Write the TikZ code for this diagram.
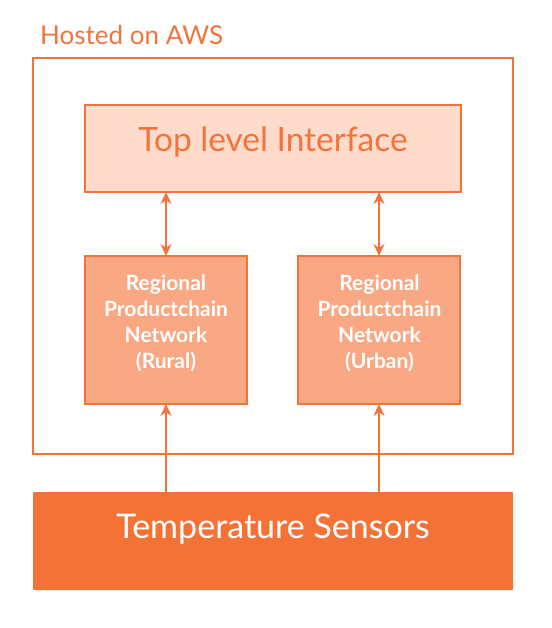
\documentclass[tikz,border=0pt]{standalone}
\usepackage{fontspec}
\setmainfont{Lato}
\usetikzlibrary{arrows.meta}
\definecolor{orline}{HTML}{F4733A}
\definecolor{ordark}{HTML}{F47235}
\definecolor{ormid}{HTML}{F9A883}
\definecolor{orlight}{HTML}{FFDBCC}
\begin{document}
\begin{tikzpicture}[x=1pt,y=-1pt,
  frame/.style={draw=orline,line width=2.8pt,inner sep=0pt,outer sep=0pt,anchor=north west},
  netbox/.style={frame,fill=ormid,minimum width=162pt,minimum height=148pt},
  nettext/.style={text=white,font=\fontsize{21}{26}\selectfont\bfseries,align=center,anchor=base},
  arr/.style={draw=orline,line width=2.8pt,-{Stealth[length=12pt,width=11pt]}},
  darr/.style={draw=orline,line width=2.8pt,{Stealth[length=12pt,width=11pt]}-{Stealth[length=12pt,width=11pt]}}]
\useasboundingbox (0,0) rectangle (551,628);
\node[frame,minimum width=480pt,minimum height=396pt] (aws) at (33,58) {};
\node[anchor=base west,inner sep=0pt,text=orline,font=\fontsize{26}{30}\selectfont] (awslabel) at (40,45) {Hosted on AWS};
\node[frame,fill=orlight,minimum width=376pt,minimum height=87pt] (top) at (85,105) {};
\node[anchor=base,inner sep=0pt,text=orline,font=\fontsize{33.5}{40}\selectfont] (toptext) at (273,152) {Top level Interface};
\node[netbox] (rural) at (85,256) {};
\node[netbox] (urban) at (298,256) {};
\node[nettext,inner sep=0pt] (ruraltext) at (166,368) {Regional\\Productchain\\Network\\(Rural)};
\node[nettext,inner sep=0pt] (urbantext) at (379.5,368) {Regional\\Productchain\\Network\\(Urban)};
\node[anchor=north west,fill=ordark,rounded corners=1pt,minimum width=480pt,minimum height=98pt,inner sep=0pt,outer sep=0pt] (sens) at (33,492) {};
\node[anchor=base,inner sep=0pt,text=white,font=\fontsize{34}{40}\selectfont] (senstext) at (273,538) {Temperature Sensors};
\draw[darr] (top.south -| rural.north) -- (rural.north);
\draw[darr] (top.south -| urban.north) -- (urban.north);
\draw[arr] (sens.north -| rural.south) -- (rural.south);
\draw[arr] (sens.north -| urban.south) -- (urban.south);
\end{tikzpicture}
\end{document}
